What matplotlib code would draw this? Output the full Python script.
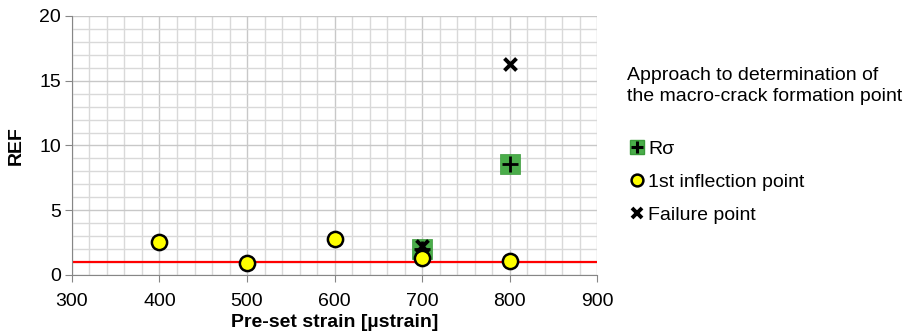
import matplotlib
matplotlib.use("Agg")
from matplotlib import pyplot as plt
from matplotlib.lines import Line2D
import numpy as np

plt.rcParams['font.family'] = ['Liberation Sans', 'DejaVu Sans']

# data
rsig_x = [700, 800]
rsig_y = [2.0, 8.6]
infl_x = [400, 500, 600, 700, 800]
infl_y = [2.55, 0.95, 2.8, 1.35, 1.05]
fail_x = [700, 800]
fail_y = [2.2, 16.3]
ref_level = 1.0

fig = plt.figure(figsize=(9.09, 3.33), dpi=100)
ax = fig.add_axes([0.0792, 0.1742, 0.5776, 0.778])

# grid: minor every 20 / 1, major every 100 / 5
ax.set_xticks(np.arange(300, 901, 100))
ax.set_xticks(np.arange(300, 901, 20), minor=True)
ax.set_yticks(np.arange(0, 21, 5))
ax.set_yticks(np.arange(0, 21, 1), minor=True)
ax.grid(which='minor', color='#d9d9d9', lw=1)
ax.grid(which='major', color='#c8c8c8', lw=1)
ax.set_axisbelow(True)
ax.set_xlim(300, 900)
ax.set_ylim(0, 20)

for s in ['top', 'right']:
    ax.spines[s].set_visible(False)
ax.spines['left'].set_color('#868686')
ax.spines['bottom'].set_color('#868686')
ax.tick_params(which='major', length=5, color='#868686', labelsize=14, pad=3)
ax.tick_params(axis='x', which='major', pad=8)
ax.tick_params(which='minor', length=0)

ax.axhline(ref_level, color='#ff0000', lw=1.6, zorder=2)

# R sigma: green square with black plus
ax.scatter(rsig_x, rsig_y, marker='s', s=200, color='#4aad4a', edgecolors='#3a9a3a', lw=0.5, zorder=3)
ax.scatter(rsig_x, rsig_y, marker='+', s=120, color='black', lw=2.0, zorder=4)
ax.scatter(infl_x, infl_y, marker='o', s=120, color='#ffff00', edgecolors='black', lw=1.8, zorder=5)
ax.scatter(fail_x, fail_y, marker='x', s=75, color='black', lw=2.8, zorder=6)

ax.set_xlabel('Pre-set strain [µstrain]', fontsize=14, fontweight='bold', labelpad=3)
ax.set_ylabel('REF', fontsize=14, fontweight='bold', labelpad=10)

fig.text(0.690, 0.742, 'Approach to determination of\nthe macro-crack formation point',
         fontsize=14, va='center', ha='left', linespacing=1.25)

# legend entries
h_rsig = (Line2D([], [], marker='s', ms=9.5, color='#4aad4a', ls='none', mec='#3a9a3a'),
          Line2D([], [], marker='+', ms=8, color='black', mew=2.2, ls='none'))
h_infl = Line2D([], [], marker='o', ms=8.5, mfc='#ffff00', mec='black', mew=1.8, ls='none')
h_fail = Line2D([], [], marker='x', ms=7, color='black', mew=2.8, ls='none')
fig.legend([h_rsig, h_infl, h_fail], ['Rσ', '1st inflection point', 'Failure point'],
           loc='upper left', bbox_to_anchor=(0.681, 0.608), frameon=False, fontsize=14,
           handlelength=0.8, handletextpad=0.2, labelspacing=0.8, borderpad=0)

fig.savefig('out.png', dpi=100)
